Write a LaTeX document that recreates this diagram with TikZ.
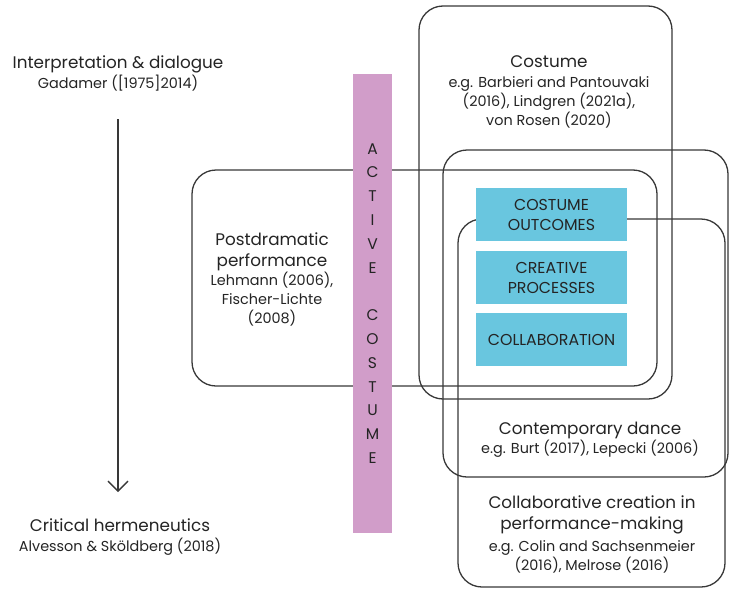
\documentclass[tikz,border=0pt]{standalone}
\usepackage{fontspec}
\setmainfont{Poppins}
\usetikzlibrary{arrows.meta}
\definecolor{ink}{HTML}{242424}
\definecolor{frame}{HTML}{383838}
\definecolor{orchid}{HTML}{D19DC9}
\definecolor{sky}{HTML}{69C6DF}
\tikzset{
  zone/.style={draw=frame, line width=1.3pt, rounded corners=24pt},
  title/.style={anchor=base, text=ink, inner sep=0pt, font=\fontsize{16.8}{21}\selectfont},
  cite/.style={anchor=base, text=ink, inner sep=0pt, font=\fontsize{14.4}{19}\selectfont},
  theme/.style={fill=sky, text=ink, inner sep=0pt, minimum width=151pt, minimum height=53pt,
    align=center, font=\fontsize{15.8}{20}\selectfont},
  band/.style={fill=orchid, text=ink, inner sep=0pt, minimum width=39pt, minimum height=459pt,
    align=center, font=\fontsize{15.5}{23.8}\selectfont},
}
\begin{document}
\begin{tikzpicture}[x=1pt, y=-1pt]
\useasboundingbox (0,0) rectangle (730,589);

% overlapping fields
\draw[zone] (419,6) rectangle (672,399);
\draw[zone] (192,170) rectangle (657,386);
\draw[zone] (443,150) rectangle (728,477);
\draw[zone] (458,219) rectangle (725,587);

% vertical band
\node[band] (active) at (372.5,303.5) {A\\C\\T\\I\\V\\E\\[23.8pt]C\\O\\S\\T\\U\\M\\E};

% core themes
\node[theme] (outcomes) at (551.5,214.5) {COSTUME\\OUTCOMES};
\node[theme] (processes) at (551.5,277.5) {CREATIVE\\PROCESSES};
\node[theme] (collab) at (551.5,339.5) {COLLABORATION};

% interpretive axis
\node[title] (interp) at (118,68) {Interpretation \& dialogue};
\node[cite] (gadamer) at (118,88) {Gadamer ([1975]2014)};
\node[title] (critical) at (120,531) {Critical hermeneutics};
\node[cite] (alvesson) at (120,551) {Alvesson \& Sköldberg (2018)};
\coordinate (axtop) at (118,119);
\coordinate (axbot) at (118,492);
\draw[frame, line width=1.3pt, -{Straight Barb[length=10pt,width=20pt,line width=1.3pt]}] (axtop) -- (axbot);

% costume field
\node[title] (cost) at (549,67) {Costume};
\node[cite] (costa) at (549,87) {e.g. Barbieri and Pantouvaki};
\node[cite] (costb) at (549,106) {(2016), Lindgren (2021a),};
\node[cite] (costc) at (549,125) {von Rosen (2020)};

% postdramatic field
\node[title] (posta) at (272,245) {Postdramatic};
\node[title] (postb) at (272,266) {performance};
\node[cite] (postc) at (272,285) {Lehmann (2006),};
\node[cite] (postd) at (272,304) {Fischer-Lichte};
\node[cite] (poste) at (272,323) {(2008)};

% dance field
\node[title] (dancea) at (590,434) {Contemporary dance};
\node[cite] (danceb) at (590,453) {e.g. Burt (2017), Lepecki (2006)};

% collaborative field
\node[title] (cca) at (592,508) {Collaborative creation in};
\node[title] (ccb) at (592,529) {performance-making};
\node[cite] (ccc) at (592,551) {e.g. Colin and Sachsenmeier};
\node[cite] (ccd) at (592,570) {(2016), Melrose (2016)};
\end{tikzpicture}
\end{document}
